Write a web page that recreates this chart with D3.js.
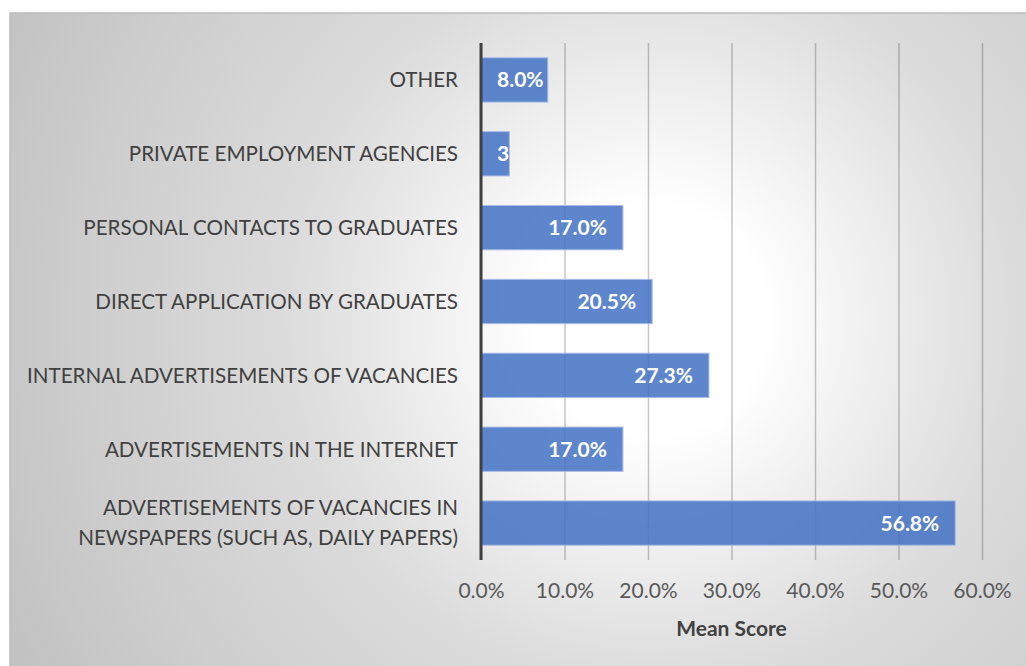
<!DOCTYPE html>
<html>
<head>
<meta charset="utf-8">
<script src="https://cdn.jsdelivr.net/npm/d3@7"></script>
<style>
  html, body { margin: 0; padding: 0; background: #ffffff; }
  svg { display: block; }
  text { font-family: Lato, "Open Sans", sans-serif; }
</style>
</head>
<body>
<svg id="chart" width="1026" height="666"></svg>
<script>
// Recruitment channels, top to bottom
const categories = [
  "OTHER",
  "PRIVATE EMPLOYMENT AGENCIES",
  "PERSONAL CONTACTS TO GRADUATES",
  "DIRECT APPLICATION BY GRADUATES",
  "INTERNAL ADVERTISEMENTS OF VACANCIES",
  "ADVERTISEMENTS IN THE INTERNET",
  "ADVERTISEMENTS OF VACANCIES IN\nNEWSPAPERS (SUCH AS, DAILY PAPERS)"
];
const values = [0.080, 0.034, 0.170, 0.205, 0.273, 0.170, 0.568];
const tickValues = [0, 0.1, 0.2, 0.3, 0.4, 0.5, 0.6];
const axisTitle = "Mean Score";

const svg = d3.select("#chart");
const defs = svg.append("defs");

// Chart area background: soft radial fade from white to grey
const bg = defs.append("radialGradient")
  .attr("id", "bgGrad")
  .attr("gradientUnits", "userSpaceOnUse")
  .attr("cx", 650).attr("cy", 320).attr("r", 720);
bg.append("stop").attr("offset", "0").attr("stop-color", "#ffffff");
bg.append("stop").attr("offset", "0.16").attr("stop-color", "#ffffff");
bg.append("stop").attr("offset", "0.5").attr("stop-color", "#dcdcdc");
bg.append("stop").attr("offset", "1").attr("stop-color", "#c2c2c2");

svg.append("rect")
  .attr("x", 10).attr("y", 13)
  .attr("width", 1030).attr("height", 670)
  .attr("fill", "url(#bgGrad)")
  .attr("stroke", "#bcbcbc").attr("stroke-width", 1.5);

const x = d3.scaleLinear().domain([0, 0.6]).range([481, 982]);
const y = d3.scaleBand().domain(categories).range([43, 560]).paddingInner(0.4).paddingOuter(0.2);

// Vertical gridlines
const grid = svg.append("g")
  .attr("transform", "translate(0,560)")
  .call(d3.axisBottom(x).tickValues(tickValues).tickSize(-517).tickFormat(""));
grid.select(".domain").remove();
grid.selectAll("line")
  .attr("stroke", "#000").attr("stroke-opacity", 0.22).attr("stroke-width", 1.5);

// Bars
const bars = svg.append("g");
bars.selectAll("rect")
  .data(values)
  .join("rect")
  .attr("x", x(0))
  .attr("y", (d, i) => y(categories[i]))
  .attr("width", d => x(d) - x(0))
  .attr("height", y.bandwidth())
  .attr("fill", "#4472c4")
  .attr("fill-opacity", 0.86)
  .attr("stroke", "#a9bde6")
  .attr("stroke-width", 1);

// Clip paths so labels stay inside their bars
values.forEach((d, i) => {
  defs.append("clipPath").attr("id", "clip" + i)
    .append("rect")
    .attr("x", x(0)).attr("y", y(categories[i]))
    .attr("width", x(d) - x(0)).attr("height", y.bandwidth());
});

// Value labels, inside end
const fmt = d3.format(".1%");
const labels = svg.append("g");
values.forEach((d, i) => {
  const t = labels.append("text")
    .attr("clip-path", "url(#clip" + i + ")")
    .attr("y", y(categories[i]) + y.bandwidth() / 2)
    .attr("dy", "0.36em")
    .attr("fill", "#ffffff")
    .attr("font-weight", 700)
    .attr("font-size", 21)
    .text(fmt(d));
  const w = t.node().getComputedTextLength();
  let start = x(d) - 16 - w;
  if (start < x(0) + 16) start = x(0) + 16;
  t.attr("x", start);
});

// Category labels
const catG = svg.append("g");
categories.forEach((c, i) => {
  const lines = c.split("\n");
  const cy = y(c) + y.bandwidth() / 2;
  const lh = 30;
  const t = catG.append("text")
    .attr("text-anchor", "end")
    .attr("fill", "#404040")
    .attr("font-size", 20.6);
  lines.forEach((ln, k) => {
    t.append("tspan")
      .attr("x", 458)
      .attr("y", cy + (k - (lines.length - 1) / 2) * lh)
      .attr("dy", "0.36em")
      .text(ln);
  });
});

// Vertical category axis line
svg.append("line")
  .attr("x1", x(0)).attr("x2", x(0))
  .attr("y1", 43).attr("y2", 560)
  .attr("stroke", "#404040").attr("stroke-width", 3);

// Value axis tick labels
const xAxis = svg.append("g")
  .attr("transform", "translate(0,560)")
  .call(d3.axisBottom(x).tickValues(tickValues).tickSize(0).tickPadding(23).tickFormat(fmt));
xAxis.select(".domain").remove();
xAxis.selectAll("text")
  .attr("font-size", 21)
  .attr("fill", "#595959")
  .attr("font-family", "Lato, 'Open Sans', sans-serif");

// Axis title
svg.append("text")
  .attr("x", (x(0) + x(0.6)) / 2)
  .attr("y", 628)
  .attr("dy", "0.36em")
  .attr("text-anchor", "middle")
  .attr("font-weight", 700)
  .attr("font-size", 21)
  .attr("fill", "#404040")
  .text(axisTitle);
</script>
</body>
</html>
